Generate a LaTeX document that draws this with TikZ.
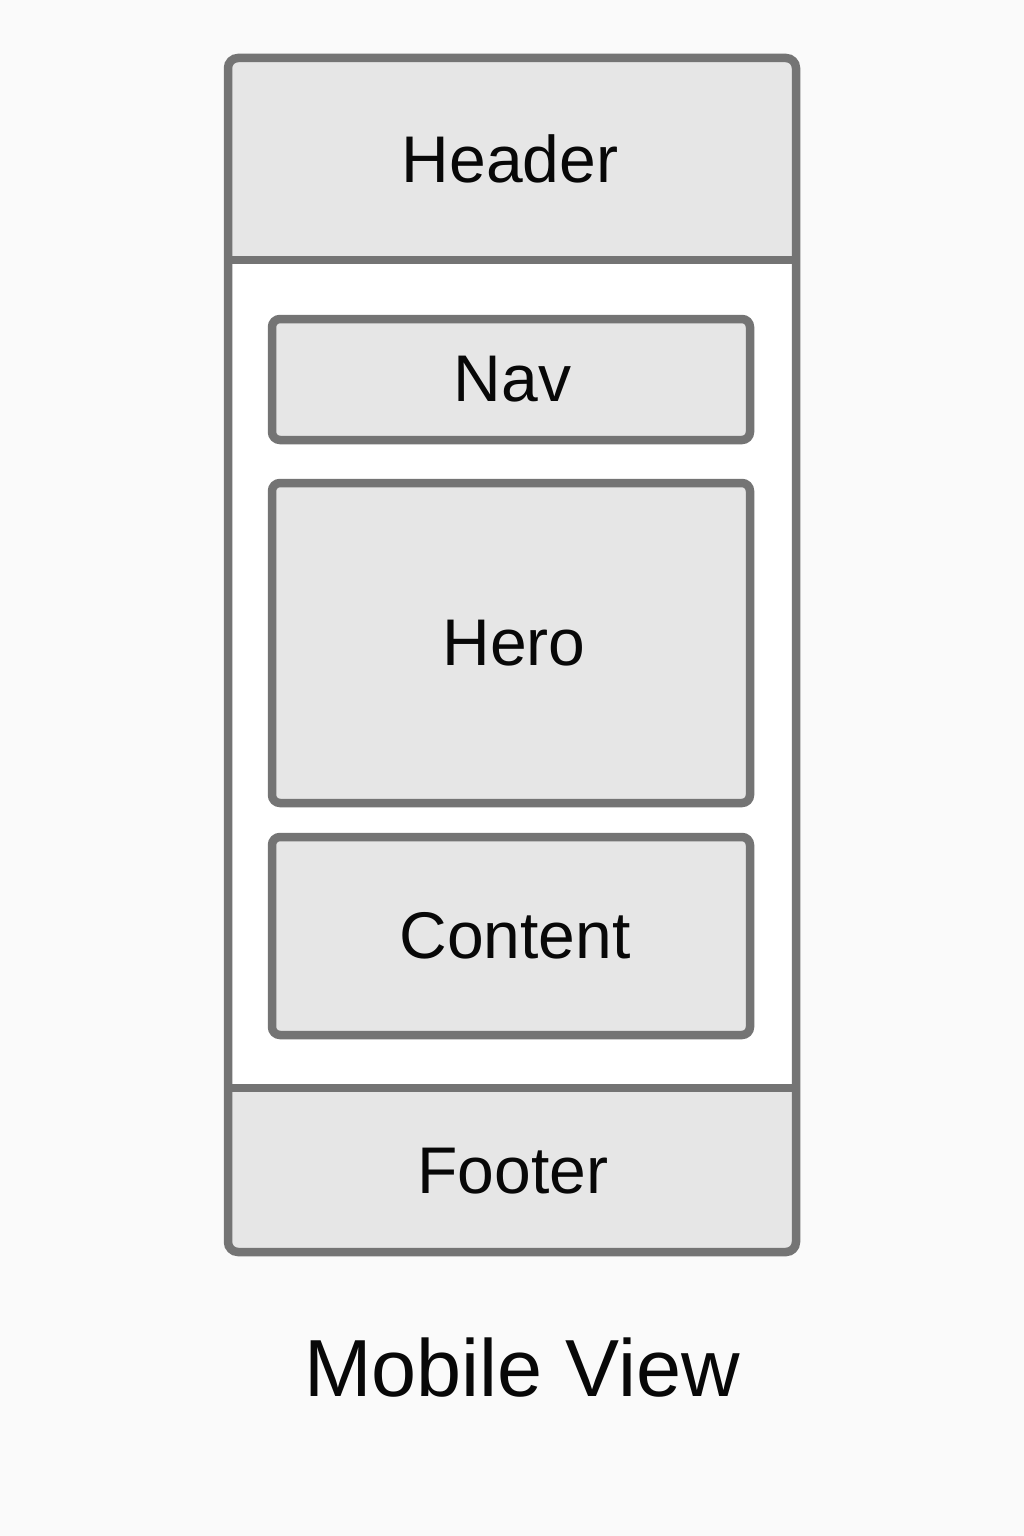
\documentclass[tikz,border=0pt]{standalone}
\usepackage{fontspec}
\setmainfont{Liberation Sans}
\definecolor{bgc}{HTML}{FAFAFA}
\definecolor{strokec}{HTML}{747474}
\definecolor{fillc}{HTML}{E6E6E6}
\definecolor{txtc}{HTML}{080808}
\tikzset{
  frameline/.style={draw=strokec, line width=8.5pt},
  box/.style={frameline, fill=fillc, rounded corners=8pt, inner sep=0pt,
    font=\fontsize{66}{70}\selectfont, text=txtc},
  lbl/.style={font=\fontsize{66}{70}\selectfont, text=txtc, inner sep=0pt},
}
\begin{document}
\begin{tikzpicture}[x=1pt,y=-1pt]
\useasboundingbox (0,0) rectangle (1024,1536);
\fill[bgc] (0,0) rectangle (1024,1536);
% phone frame body
\fill[white, rounded corners=10pt] (228,58) rectangle (796,1252);
% header and footer fills
\fill[fillc] (228,260) [rounded corners=10pt] -- (228,58) -- (796,58) [sharp corners] -- (796,260) -- cycle;
\fill[fillc] (228,1088) [rounded corners=10pt] -- (228,1252) -- (796,1252) [sharp corners] -- (796,1088) -- cycle;
\coordinate (hl) at (228,260);
\coordinate (hr) at (796,260);
\coordinate (fl) at (228,1088);
\coordinate (fr) at (796,1088);
\draw[frameline] (hl) -- (hr);
\draw[frameline] (fl) -- (fr);
\draw[frameline, rounded corners=10pt] (228,58) rectangle (796,1252);
% labels
\node[lbl] (header) at (510,159) {Header};
\node[lbl] (footer) at (513,1171) {Footer};
\node[box, minimum width=478pt, minimum height=121pt] (nav) at (511,379.5) {\hspace*{3pt}Nav};
\node[box, minimum width=478pt, minimum height=320pt] (hero) at (511,643) {\hspace*{6pt}Hero};
\node[box, minimum width=478pt, minimum height=198pt] (content) at (511,936) {\hspace*{8pt}Content};
\node[lbl, font=\fontsize{81}{88}\selectfont] (title) at (522,1368) {Mobile View};
\end{tikzpicture}
\end{document}
